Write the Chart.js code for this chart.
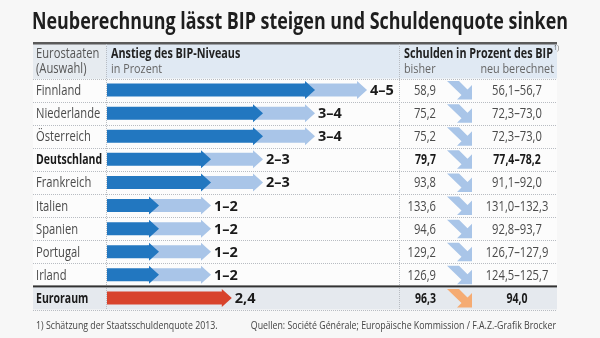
<!DOCTYPE html>
<html>
<head>
<meta charset="utf-8">
<script src="https://cdn.jsdelivr.net/npm/chart.js@4"></script>
<style>
  html, body { margin: 0; padding: 0; background: #f7f7f7; }
  canvas { display: block; }
</style>
</head>
<body>
<canvas id="bipChart" width="600" height="338"></canvas>
<script>
// data
const countries = ['Finnland', 'Niederlande', 'Österreich', 'Deutschland', 'Frankreich', 'Italien', 'Spanien', 'Portugal', 'Irland', 'Euroraum'];
const bipLow = [4, 3, 3, 2, 2, 1, 1, 1, 1, 2.4];
const bipHigh = [5, 4, 4, 3, 3, 2, 2, 2, 2, null];
const bipLabels = ['4–5', '3–4', '3–4', '2–3', '2–3', '1–2', '1–2', '1–2', '1–2', '2,4'];
const debtBefore = ['58,9', '75,2', '75,2', '79,7', '93,8', '133,6', '94,6', '129,2', '126,9', '96,3'];
const debtNew = ['56,1–56,7', '72,3–73,0', '72,3–73,0', '77,4–78,2', '91,1–92,0', '131,0–132,3', '92,8–93,7', '126,7–127,9', '124,5–125,7', '94,0'];
const boldRows = ['Deutschland', 'Euroraum'];

const DARK = '#2277c0', LIGHT = '#a9c5e8', RED = '#d8432c', ORANGE = '#f5ab72';
const FONT = '"Open Sans", "Noto Sans", sans-serif';
const SX = 0.8; // condensed look

function txt(ctx, s, x, y, size, weight, color, align, sx) {
    sx = sx || (weight === 'bold' ? 0.75 : SX);
    ctx.save();
    ctx.font = weight + ' ' + size + 'px ' + FONT;
    ctx.fillStyle = color;
    ctx.textBaseline = 'alphabetic';
    ctx.textAlign = align || 'left';
    ctx.translate(x, y);
    ctx.scale(sx, 1);
    ctx.fillText(s, 0, 0);
    const w = ctx.measureText(s).width * sx;
    ctx.restore();
    return w;
}

function arrow(ctx, x0, x1, y, color) {
    const bh = 6.5, hh = 9, hl = 10;
    ctx.fillStyle = color;
    ctx.beginPath();
    ctx.moveTo(x0, y - bh);
    ctx.lineTo(x1 - hl, y - bh);
    ctx.lineTo(x1 - hl, y - hh);
    ctx.lineTo(x1, y);
    ctx.lineTo(x1 - hl, y + hh);
    ctx.lineTo(x1 - hl, y + bh);
    ctx.lineTo(x0, y + bh);
    ctx.closePath();
    ctx.fill();
}

function diag(ctx, left, top, color) {
    const p = [[0, 0], [12, 0], [20.5, 8.5], [25, 4], [25, 18.5], [10, 18.5], [14.5, 14]];
    ctx.fillStyle = color;
    ctx.beginPath();
    p.forEach((q, i) => i ? ctx.lineTo(left + q[0], top + q[1]) : ctx.moveTo(left + q[0], top + q[1]));
    ctx.closePath();
    ctx.fill();
}

const tablePlugin = {
    id: 'table',
    beforeDatasetsDraw(chart) {
        const ctx = chart.ctx;
        const y = chart.scales.y;
        const band = y.height / countries.length;
        const L = 33, R = 557, top = chart.chartArea.top, bottom = chart.chartArea.bottom;

        ctx.save();
        // title
        ctx.font = 'bold 22.5px ' + FONT;
        ctx.fillStyle = '#1e1e1e';
        ctx.textBaseline = 'alphabetic';
        ctx.fillText('Neuberechnung lässt BIP steigen und Schuldenquote sinken', 32, 29, 536);

        // table body
        ctx.fillStyle = '#fcfcfc';
        ctx.fillRect(L, top, R - L, bottom - top);
        // header band
        ctx.fillStyle = '#e0e9f3';
        ctx.fillRect(L, 44, R - L, top - 44);
        ctx.fillStyle = '#e6ebf0';
        ctx.fillRect(L, 44, 106 - L, top - 44);
        // Euroraum band
        const eTop = y.getPixelForValue(countries.length - 1) - band / 2;
        ctx.fillStyle = '#e5e9ee';
        ctx.fillRect(L, eTop, R - L, bottom - eTop);

        // thick top line
        ctx.fillStyle = '#5a5a5a';
        ctx.fillRect(L, 42, R - L, 2.5);

        // dotted row lines
        ctx.strokeStyle = '#b8bcc2';
        ctx.lineWidth = 1;
        ctx.setLineDash([1, 1]);
        for (let i = 0; i <= countries.length; i++) {
            const yy = Math.round(top + band * i) + 0.5;
            if (i === countries.length - 1) continue;
            ctx.beginPath();
            ctx.moveTo(L, yy);
            ctx.lineTo(R, yy);
            ctx.stroke();
        }
        // vertical dividers
        [106.5, 399.5].forEach(xx => {
            ctx.beginPath();
            ctx.moveTo(xx, 44);
            ctx.lineTo(xx, bottom);
            ctx.stroke();
        });
        ctx.setLineDash([]);
        // line above Euroraum
        ctx.fillStyle = '#333';
        ctx.fillRect(L, eTop - 1, R - L, 2);

        // header text
        txt(ctx, 'Eurostaaten', 36, 58, 14, 'normal', '#555');
        txt(ctx, '(Auswahl)', 36, 73, 14, 'normal', '#555');
        txt(ctx, 'Anstieg des BIP-Niveaus', 111, 58, 13.5, 'bold', '#222', 'left', 0.8);
        txt(ctx, 'in Prozent', 111, 73, 13.5, 'normal', '#666');
        const w = txt(ctx, 'Schulden in Prozent des BIP', 404, 58, 13.5, 'bold', '#222', 'left', 0.8);
        txt(ctx, '1)', 404 + w + 1, 50, 7, 'normal', '#555');
        txt(ctx, 'bisher', 404, 73, 13.5, 'normal', '#666');
        txt(ctx, 'neu berechnet', 554, 73, 13.5, 'normal', '#666', 'right');

        // rows
        countries.forEach((c, i) => {
            const cy = y.getPixelForValue(i);
            const b = boldRows.includes(c);
            const wt = b ? 'bold' : 'normal';
            const col = b ? '#1a1a1a' : '#4a4a4a';
            txt(ctx, c, 36, cy + 5, 14, wt, col);
            txt(ctx, debtBefore[i], 436, cy + 5, 14, wt, col, 'right');
            txt(ctx, debtNew[i], 517, cy + 5, 14, wt, col, 'center');
            diag(ctx, 447, cy - 9, i === countries.length - 1 ? ORANGE : LIGHT);
        });

        // footer
        txt(ctx, '1) Schätzung der Staatsschuldenquote 2013.', 36, 329, 11, 'normal', '#444');
        txt(ctx, 'Quellen: Société Générale; Europäische Kommission / F.A.Z.-Grafik Brocker', 556, 329, 11, 'normal', '#444', 'right');
        ctx.restore();
    },
    beforeDatasetDraw() {
        return false;
    },
    afterDatasetsDraw(chart) {
        const ctx = chart.ctx;
        ctx.save();
        const range = chart.getDatasetMeta(1).data;
        const low = chart.getDatasetMeta(0).data;
        range.forEach((el, i) => {
            if (bipHigh[i] == null) return;
            arrow(ctx, el.base - 12, el.x, el.y, chart.data.datasets[1].backgroundColor);
        });
        low.forEach((el, i) => {
            arrow(ctx, el.base, el.x, el.y, chart.data.datasets[0].backgroundColor[i]);
        });
        countries.forEach((c, i) => {
            const el = bipHigh[i] == null ? low[i] : range[i];
            txt(ctx, bipLabels[i], el.x + 3, el.y + 5, 14.5, 'bold', '#1a1a1a', 'left', 1.0);
        });
        ctx.restore();
    }
};

new Chart(document.getElementById('bipChart').getContext('2d'), {
    type: 'bar',
    data: {
        labels: countries,
        datasets: [{
            label: 'bisher',
            data: bipLow.map(v => [0, v]),
            backgroundColor: countries.map((c, i) => i === countries.length - 1 ? RED : DARK),
            barThickness: 13,
            grouped: false
        }, {
            label: 'Spanne',
            data: bipLow.map((v, i) => bipHigh[i] == null ? null : [v, bipHigh[i]]),
            backgroundColor: LIGHT,
            barThickness: 13,
            grouped: false
        }]
    },
    options: {
        indexAxis: 'y',
        responsive: false,
        animation: false,
        layout: { padding: { left: 107, right: 201, top: 78.5, bottom: 28.5 } },
        scales: {
            x: { display: false, min: 0, max: 5.615 },
            y: { display: false, offset: true }
        },
        plugins: {
            legend: { display: false },
            tooltip: { enabled: false }
        }
    },
    plugins: [tablePlugin]
});
</script>
</body>
</html>
